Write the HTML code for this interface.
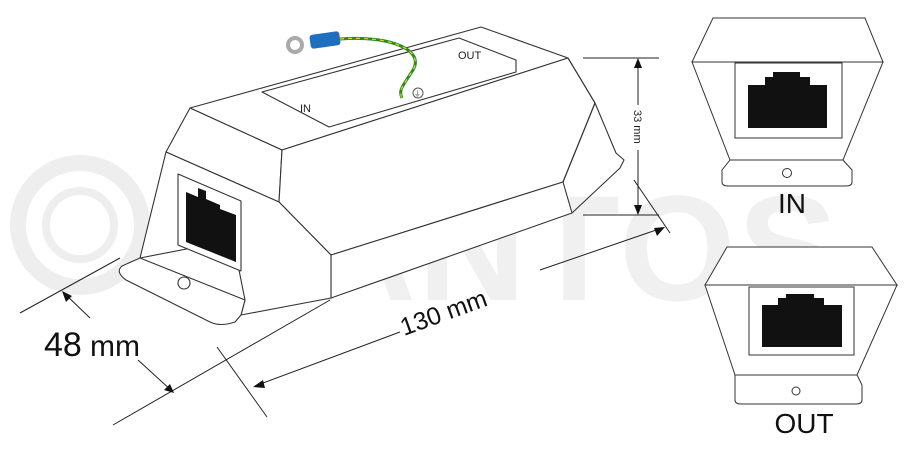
<!DOCTYPE html>
<html><head><meta charset="utf-8"><style>
html,body{margin:0;padding:0;background:#fff;}
svg{display:block;}
</style></head><body>
<svg width="917" height="460" viewBox="0 0 917 460" xmlns="http://www.w3.org/2000/svg" font-family="Liberation Sans, sans-serif">
<!-- watermark -->
<g fill="#f0f0f0">
<text x="225" y="300" font-size="150" font-weight="bold" letter-spacing="2">TANTOS</text>
</g>
<g fill="none" stroke="#eeeeee">
<circle cx="80" cy="225" r="62" stroke-width="16"/>
<circle cx="80" cy="225" r="34" stroke-width="8"/>
</g>

<g fill="none" stroke="#333" stroke-width="1.1" stroke-linejoin="round">
<polygon points="190,108 481,27 568,58 282,150" fill="#fff"/>
<path d="M262,92 L459,38 L516,60 L516,72 L329,127 Z"/>
<polygon points="190,108 282,150 279,202 166,152" fill="#fff"/>
<polygon points="282,150 568,58 595,103 563,182 331,255 279,202" fill="#fff"/>
<polygon points="331,255 563,182 572,213 331,298" fill="#fff"/>
<polygon points="166,152 279,202 331,255 331,298 241,315 245,300 233,240 140,258" fill="#fff"/>
<path d="M140,258 L122,266 Q115,272 126,280 L210,322 Q220,327 235,322 L241,315 L245,300 Z" fill="#fff"/>
<polyline points="568,58 595,103 616,153 624,160 620,168 572,213"/>
<line x1="595" y1="103" x2="563" y2="182"/>
<polygon points="178,174 241,201 241,271 178,245" fill="#fff"/>
<circle cx="184" cy="283" r="6"/>
</g>
<polygon points="186,192 198,197 198,188 206,191 206,199 220,205 220,209 236,215 236,262 186,242" fill="#111"/>

<!-- cable -->
<path d="M340,39 C390,35 425,50 413,70 C403,86 398,90 402,98" fill="none" stroke="#2a8a2a" stroke-width="3"/>
<path d="M340,39 C390,35 425,50 413,70 C403,86 398,90 402,98" fill="none" stroke="#d8d820" stroke-width="1.2" stroke-dasharray="4 4"/>
<circle cx="295" cy="45" r="7" fill="none" stroke="#aaa" stroke-width="4"/>
<rect x="310" y="33" width="30" height="14" rx="3" fill="#1f6fc0" transform="rotate(-8 325 40)"/>
<circle cx="418" cy="93" r="5" fill="none" stroke="#555" stroke-width="1"/>
<text x="414" y="96" font-size="7" fill="#333">⏚</text>
<text x="300" y="112" font-size="11" fill="#222">IN</text>
<text x="458" y="59" font-size="11" fill="#222">OUT</text>

<g stroke="#222" stroke-width="1" fill="none">
<line x1="583" y1="58" x2="659" y2="58"/>
<line x1="583" y1="215" x2="659" y2="215"/>
<line x1="638" y1="62" x2="638" y2="105"/>
<line x1="638" y1="150" x2="638" y2="211"/>
<line x1="634" y1="180" x2="670" y2="233"/>
<line x1="20" y1="313" x2="120" y2="258"/>
<line x1="90" y1="318" x2="64" y2="293"/>
<line x1="113" y1="425" x2="330" y2="300"/>
<line x1="138" y1="360" x2="172" y2="391"/>
<line x1="217" y1="347" x2="267" y2="417"/>
<line x1="255" y1="386" x2="400" y2="332"/>
<line x1="540" y1="270" x2="662" y2="228"/>
</g>
<g fill="#111">
<polygon points="638,58 634,68 642,68"/>
<polygon points="638,215 634,205 642,205"/>
<polygon points="62,291 66,302 72,296"/>
<polygon points="174,393 164,390 170,384"/>
<polygon points="253,387 263,380 265,388"/>
<polygon points="665,227 654,228 657,236"/>
</g>
<text transform="translate(634,110) rotate(90)" font-size="11" fill="#222">33 mm</text>
<text transform="translate(404,336) rotate(-20)" font-size="25" fill="#111">130 mm</text>
<text x="44" y="356" font-size="34" fill="#111">48</text>
<text x="90" y="356" font-size="30" fill="#111">mm</text>

<g fill="#fff" stroke="#333" stroke-width="1">
<polygon points="713,18 865,18 883,62 692,62"/>
<polygon points="692,62 883,62 843,160 730,160"/>
<path d="M730,160 L843,160 L852,170 L852,182 Q852,186 846,186 L728,186 Q722,186 722,182 L722,170 Z"/>
<rect x="735" y="63" width="107" height="75"/>
<circle cx="787" cy="173" r="4.5"/>
<polygon points="727,247 872,247 897,285 705,285"/>
<polygon points="705,285 897,285 857,375 735,375"/>
<path d="M735,375 L857,375 L862,385 L862,400 Q862,404 856,404 L741,404 Q735,404 735,400 L735,385 Z"/>
<rect x="749" y="287" width="105" height="68"/>
<circle cx="796" cy="391" r="4"/>
</g>
<polygon points="748,85 765,85 765,77 773,77 773,72 800,72 800,77 810,77 810,85 827,85 827,128 748,128" fill="#111"/>
<polygon points="762,305 778,305 778,298 786,298 786,294 814,294 814,298 824,298 824,305 842,305 842,347 762,347" fill="#111"/>
<text x="792" y="213" font-size="28" fill="#111" text-anchor="middle">IN</text>
<text x="804" y="433" font-size="28" fill="#111" text-anchor="middle">OUT</text>
</svg>
</body></html>
